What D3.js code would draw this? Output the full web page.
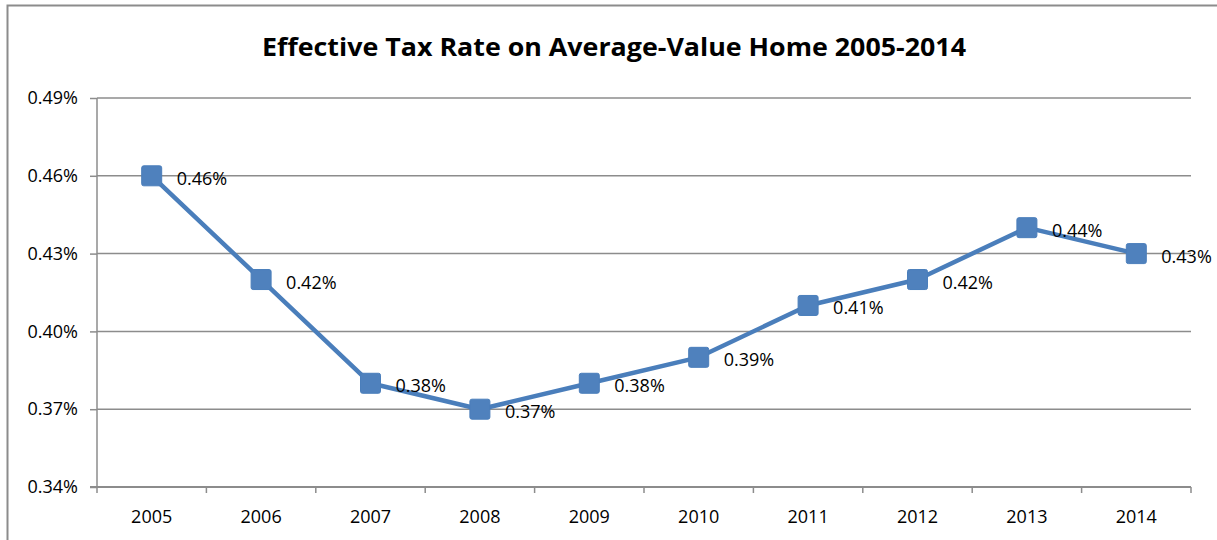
<!DOCTYPE html>
<html>
<head>
<meta charset="utf-8">
<script src="https://d3js.org/d3.v7.min.js"></script>
<style>
  body { margin: 0; background: #fff; }
  text { font-family: "Open Sans", "Noto Sans", sans-serif; fill: #000; }
</style>
</head>
<body>
<svg id="chart" width="1217" height="540"></svg>
<script>
// data
var years = ["2005", "2006", "2007", "2008", "2009", "2010", "2011", "2012", "2013", "2014"];
var rates = [0.46, 0.42, 0.38, 0.37, 0.38, 0.39, 0.41, 0.42, 0.44, 0.43];
var yTicks = [0.34, 0.37, 0.40, 0.43, 0.46, 0.49];
var title = "Effective Tax Rate on Average-Value Home 2005-2014";

var svg = d3.select("#chart");
var margin = {left: 97, right: 26, top: 98, bottom: 53};
var width = 1217, height = 540;

// outer frame (cut off at right/bottom like the screenshot)
svg.append("rect")
    .attr("x", 7.5).attr("y", 5.5)
    .attr("width", 1240).attr("height", 560)
    .attr("fill", "none")
    .attr("stroke", "#8c8c8c")
    .attr("stroke-width", 2);

var x = d3.scaleBand()
    .domain(years)
    .range([margin.left, width - margin.right]);

var y = d3.scaleLinear()
    .domain([0.34, 0.49])
    .range([height - margin.bottom, margin.top]);

// gridlines
svg.append("g")
    .selectAll("line")
    .data(yTicks.slice(1))
    .enter().append("line")
    .attr("x1", margin.left).attr("x2", width - margin.right)
    .attr("y1", d => y(d)).attr("y2", d => y(d))
    .attr("stroke", "#8c8c8c")
    .attr("stroke-width", 1.5);

// y axis
var yAxis = svg.append("g")
    .attr("transform", "translate(" + margin.left + ",0)")
    .call(d3.axisLeft(y).tickValues(yTicks).tickSize(7).tickPadding(12)
        .tickFormat(d => d.toFixed(2) + "%"));
yAxis.selectAll("line, path").attr("stroke", "#8c8c8c").attr("stroke-width", 1.5);
yAxis.select(".domain").attr("d", "M0," + y(0.49) + "V" + y(0.34));
yAxis.selectAll("text").style("font-size", "18px");

// x axis with ticks between categories
var xAxis = svg.append("g")
    .attr("transform", "translate(0," + y(0.34) + ")");
xAxis.append("line")
    .attr("x1", margin.left - 7).attr("x2", width - margin.right)
    .attr("stroke", "#8c8c8c").attr("stroke-width", 2);
xAxis.selectAll(".tk")
    .data(years.concat(["end"]))
    .enter().append("line")
    .attr("class", "tk")
    .attr("x1", (d, i) => i < years.length ? x(d) : x(years[years.length - 1]) + x.bandwidth())
    .attr("x2", (d, i) => i < years.length ? x(d) : x(years[years.length - 1]) + x.bandwidth())
    .attr("y1", 0).attr("y2", 6)
    .attr("stroke", "#8c8c8c").attr("stroke-width", 1.5);
xAxis.selectAll(".lbl")
    .data(years)
    .enter().append("text")
    .attr("class", "lbl")
    .attr("x", d => x(d) + x.bandwidth() / 2)
    .attr("y", 36)
    .attr("text-anchor", "middle")
    .style("font-size", "18px")
    .text(d => d);

// series line
var pts = years.map((d, i) => ({year: d, v: rates[i]}));
var line = d3.line()
    .x(d => x(d.year) + x.bandwidth() / 2)
    .y(d => y(d.v));

svg.append("path")
    .datum(pts)
    .attr("d", line)
    .attr("fill", "none")
    .attr("stroke", "#4a7ebb")
    .attr("stroke-width", 4.5)
    .attr("stroke-linejoin", "round");

// square markers
svg.selectAll(".mk")
    .data(pts)
    .enter().append("rect")
    .attr("class", "mk")
    .attr("x", d => x(d.year) + x.bandwidth() / 2 - 10)
    .attr("y", d => y(d.v) - 10)
    .attr("width", 20).attr("height", 20)
    .attr("rx", 2)
    .attr("fill", "#4f81bd")
    .attr("stroke", "#4a7ebb")
    .attr("stroke-width", 1);

// data labels
svg.selectAll(".dl")
    .data(pts)
    .enter().append("text")
    .attr("class", "dl")
    .attr("x", d => x(d.year) + x.bandwidth() / 2 + 25)
    .attr("y", d => y(d.v) + 9)
    .style("font-size", "18px")
    .text(d => d.v.toFixed(2) + "%");

// title, squeezed to the reference width (Calibri-like proportions)
svg.append("text")
    .attr("x", 614)
    .attr("y", 56)
    .attr("text-anchor", "middle")
    .attr("textLength", 704)
    .attr("lengthAdjust", "spacingAndGlyphs")
    .style("font-size", "25px")
    .style("font-weight", "bold")
    .text(title);
</script>
</body>
</html>
